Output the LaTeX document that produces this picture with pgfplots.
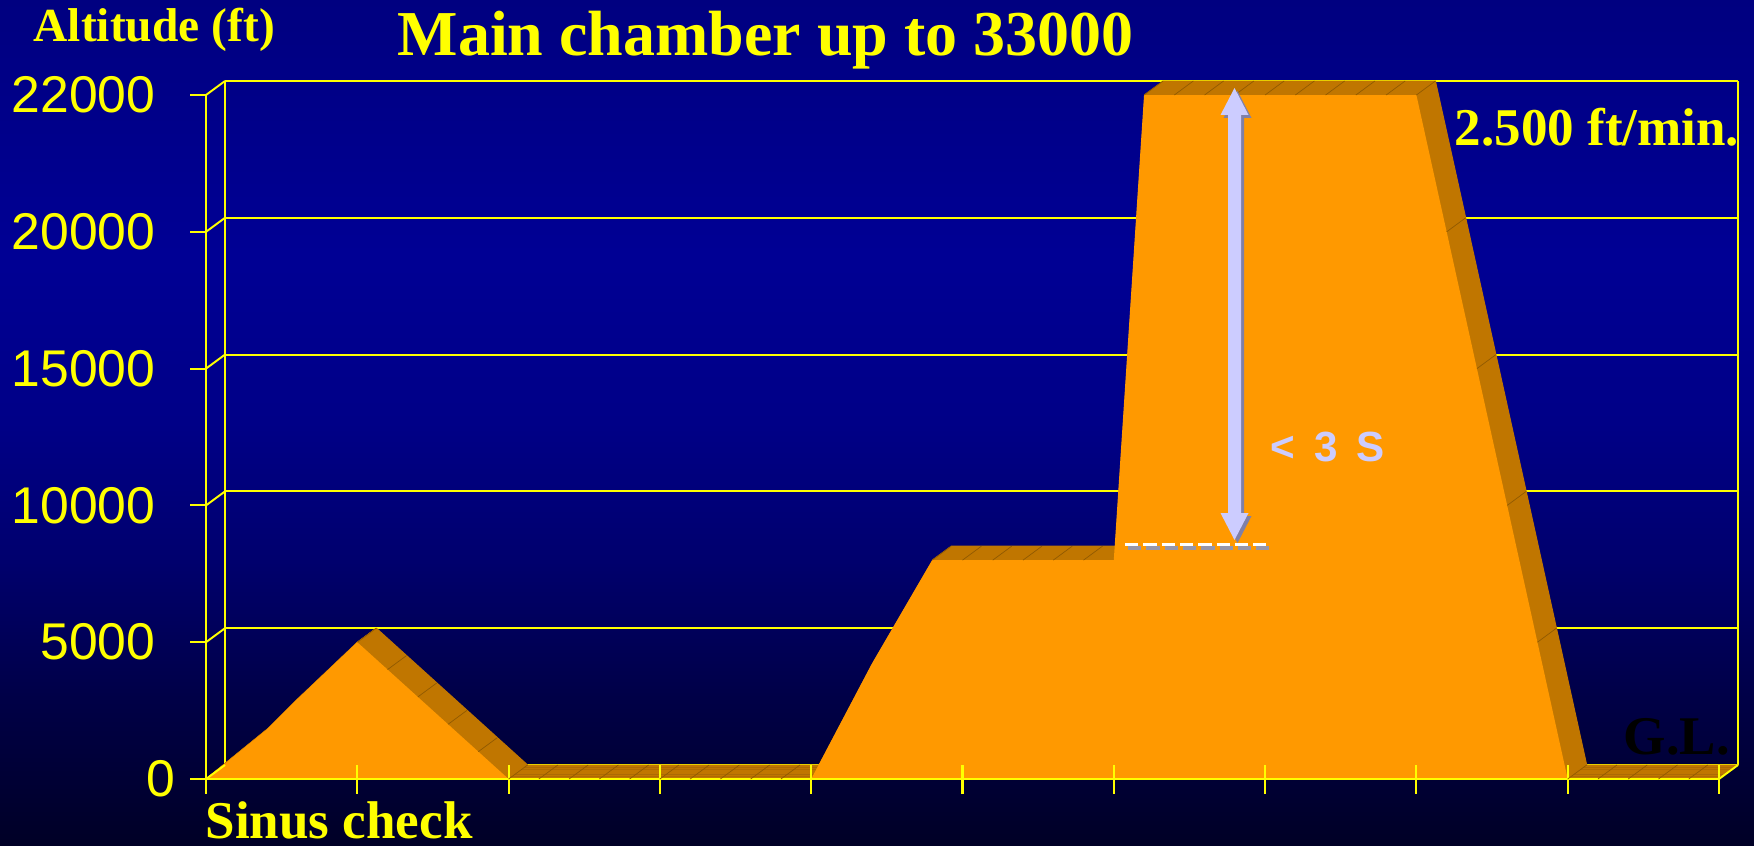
\documentclass[border=0pt]{standalone}
\usepackage{pgfplots}
\usepackage{pgfplotstable}
\pgfplotsset{compat=1.18}
\usepackage{fontspec}
\setmainfont{Liberation Serif}
\newfontfamily\arialfont{Liberation Sans}

\definecolor{slideyellow}{RGB}{255,255,0}
\definecolor{areafront}{RGB}{255,153,0}
\definecolor{areaside}{RGB}{192,118,0}
\definecolor{areajoint}{RGB}{145,90,0}
\definecolor{arrowfill}{RGB}{204,204,255}
\definecolor{arrowshade}{RGB}{128,128,168}
\definecolor{dashshade}{RGB}{150,150,170}
\definecolor{bgA}{RGB}{0,0,38}
\definecolor{bgB}{RGB}{0,0,70}
\definecolor{bgC}{RGB}{0,0,110}
\definecolor{bgD}{RGB}{0,0,135}
\definecolor{bgE}{RGB}{0,0,148}
\definecolor{bgF}{RGB}{0,0,128}

% slide background, dark at the bottom
\pgfdeclareverticalshading{slidebg}{100bp}{%
  color(0bp)=(bgA); color(25bp)=(bgA); color(33.5bp)=(bgB);
  color(42bp)=(bgC); color(50bp)=(bgD); color(60bp)=(bgE);
  color(75bp)=(bgF); color(100bp)=(bgF)}

% short receding edge used for the depth of the 3-D area
\pgfdeclareplotmark{depth}{%
  \pgfpathmoveto{\pgfpointorigin}%
  \pgfpathlineto{\pgfpoint{1.9mm}{1.4mm}}%
  \pgfusepathqstroke}
% outside tick on the value axis
\pgfdeclareplotmark{ytickmark}{%
  \pgfpathmoveto{\pgfpointorigin}%
  \pgfpathlineto{\pgfpoint{-1.6mm}{0mm}}%
  \pgfusepathqstroke}

% altitude profile (ft), one sample per step
\pgfplotstableread{
i alt
0 0
1 900
2 1800
3 2900
4 3950
5 5000
6 4000
7 3000
8 2000
9 1000
10 0
11 0
12 0
13 0
14 0
15 0
16 0
17 0
18 0
19 0
20 0
21 2100
22 4200
23 6100
24 8000
25 8000
26 8000
27 8000
28 8000
29 8000
30 8000
31 22000
32 22000
33 22000
34 22000
35 22000
36 22000
37 22000
38 22000
39 22000
40 22000
41 20000
42 15000
43 10000
44 5000
45 0
46 0
47 0
48 0
49 0
50 0
}\profile

\begin{document}
\begin{tikzpicture}
\useasboundingbox (0,0) rectangle (175.4mm,84.5mm);
\shade[shading=slidebg] (0,0) rectangle (175.4mm,84.5mm);

\begin{axis}[
  at={(20.6mm,6.6mm)}, anchor=south west,
  scale only axis, width=151.3mm, height=68.4mm,
  xmin=0, xmax=50, ymin=0, ymax=22000,
  y coord trafo/.code={\begingroup\pgfkeys{/pgf/fpu,/pgf/fpu/output format=fixed}%
    \pgfmathparse{#1>20000 ? 20000+(#1-20000)*2.5 : #1}\pgfmathsmuggle\pgfmathresult\endgroup},
  y coord inv trafo/.code={\begingroup\pgfkeys{/pgf/fpu,/pgf/fpu/output format=fixed}%
    \pgfmathparse{#1>20000 ? 20000+(#1-20000)/2.5 : #1}\pgfmathsmuggle\pgfmathresult\endgroup},
  scaled y ticks=false,
  clip=false,
  axis on top,
  axis x line*=bottom, axis y line*=left,
  axis line style={slideyellow, line width=0.6pt, -},
  major tick length=2.9mm,
  xtick={0,5,...,50}, xticklabels={},
  xtick align=center,
  xtick style={slideyellow, line width=0.6pt},
  ytick={0,5000,10000,15000,20000,22000},
  yticklabels={0\kern-2.0mm,5000,10000,15000,20000,22000},
  ytick align=outside,
  ytick style={draw=none},
  yticklabel style={font=\arialfont\fontsize{14.7pt}{16pt}\selectfont,
    text=slideyellow, inner sep=0pt, anchor=east, xshift=-2.1mm},
]
% back wall and left wall grid
\pgfplotsinvokeforeach{0,5000,10000,15000,20000,22000}{
  \addplot[slideyellow, line width=0.55pt, xshift=1.9mm, yshift=1.4mm]
    coordinates {(0,#1) (50,#1)};
}
\addplot[slideyellow, line width=0.55pt, xshift=1.9mm, yshift=1.4mm]
  coordinates {(0,0) (0,22000)};
\addplot[slideyellow, line width=0.55pt, xshift=1.9mm, yshift=1.4mm]
  coordinates {(50,0) (50,22000)};
\addplot[only marks, mark=depth, mark options={slideyellow, line width=0.55pt}]
  coordinates {(0,0) (0,5000) (0,10000) (0,15000) (0,20000) (0,22000)};
\addplot[only marks, mark=ytickmark, mark options={slideyellow, line width=0.6pt}]
  coordinates {(0,0) (0,5000) (0,10000) (0,15000) (0,20000) (0,22000)};

% extruded body of the area (top and side faces)
\pgfplotsinvokeforeach{1,...,20}{
  \addplot[draw=areaside, fill=areaside, line width=0.1mm, line join=round,
    xshift=#1*0.095mm, yshift=#1*0.07mm] table[x=i, y=alt] {\profile} \closedcycle;
}

% front face
\addplot[fill=areafront, draw=none] table[x=i, y=alt] {\profile} \closedcycle;

% edges between the facets of the visible top and side faces
\addplot[only marks, mark=depth, mark options={areajoint, line width=0.2pt},
  skip coords between index={0}{5},
  skip coords between index={20}{24},
  skip coords between index={30}{31}]
  table[x=i, y=alt] {\profile};

% right floor edge
\addplot[only marks, mark=depth, mark options={slideyellow, line width=0.55pt}]
  coordinates {(50,0)};
\end{axis}

\begin{scope}[x=0.1mm, y=-0.1mm, yshift=84.5mm]
  % rapid decompression arrow
  \fill[arrowshade] (1237.5,91) -- (1251.5,118) -- (1244,118) -- (1244,516)
    -- (1251.5,516) -- (1237.5,543) -- (1223.5,516) -- (1231,516) -- (1231,118)
    -- (1223.5,118) -- cycle;
  \fill[arrowfill] (1234.5,88) -- (1248.5,115) -- (1241,115) -- (1241,513)
    -- (1248.5,513) -- (1234.5,540) -- (1220.5,513) -- (1228,513) -- (1228,115)
    -- (1220.5,115) -- cycle;
  % 8000 ft reference mark
  \draw[dashshade, line width=0.35mm, dash pattern=on 1.33mm off 0.5mm]
    (1128,548) -- (1271,548);
  \draw[white, line width=0.35mm, dash pattern=on 1.33mm off 0.5mm]
    (1125,544.5) -- (1268,544.5);

  \node[anchor=base west, inner sep=0, text=slideyellow,
    font=\bfseries\fontsize{18.2pt}{20pt}\selectfont] at (397,56)
    {Main chamber up to 33000};
  \node[anchor=base west, inner sep=0, text=slideyellow,
    font=\bfseries\fontsize{13.5pt}{15pt}\selectfont] at (33,42)
    {Altitude (ft)};
  \node[anchor=base west, inner sep=0, text=slideyellow,
    font=\bfseries\fontsize{15.1pt}{17pt}\selectfont] at (1454,146)
    {2.500 ft/min.};
  \node[anchor=base west, inner sep=0, text=black,
    font=\bfseries\fontsize{15.5pt}{17pt}\selectfont] at (1623,754)
    {G.L.};
  \node[anchor=base west, inner sep=0, text=slideyellow,
    font=\bfseries\fontsize{15.1pt}{17pt}\selectfont] at (205,838)
    {Sinus check};
  \node[anchor=base west, inner sep=0, text=arrowfill,
    font=\arialfont\bfseries\fontsize{12pt}{14pt}\selectfont] at (1270,461)
    {<\kern0.7mm{} 3\kern0.7mm{} S};
\end{scope}
\end{tikzpicture}
\end{document}
